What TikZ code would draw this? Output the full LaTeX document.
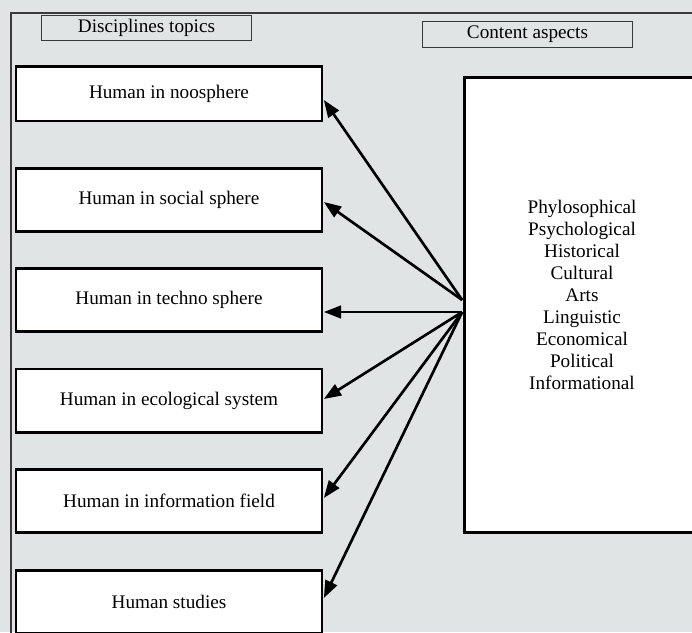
\documentclass[tikz,border=0pt]{standalone}
\usepackage{fontspec}
\setmainfont{Liberation Serif}
\usetikzlibrary{arrows.meta,calc}
\definecolor{bgcol}{HTML}{E1E4E5}
\definecolor{framecol}{HTML}{3A3A3A}
\begin{document}
\begin{tikzpicture}[x=0.75pt,y=-0.75pt,
  txt/.style={font=\fontsize{14.4}{16.5}\selectfont},
  topic/.style={txt,draw=black,line width=2pt,fill=white,minimum width=229.5pt,minimum height=47.5pt,inner sep=0pt},
  head/.style={txt,draw=framecol,line width=0.75pt,minimum width=157.5pt,minimum height=19pt,inner sep=0pt},
  bigbox/.style={draw=black,line width=2pt,fill=white,minimum width=177pt,minimum height=341pt,inner sep=0pt},
  link/.style={line width=2pt,-{Triangle[length=13pt,width=9.5pt]}},
  framel/.style={draw=framecol,line width=0.8pt}]
\useasboundingbox (0,0) rectangle (692,632);
\clip (0,0) rectangle (692,632);
\fill[bgcol] (0,0) rectangle (692,632);
\draw[framel] (11,660) -- (11,13) -- (720,13);

\node[head] (h1) at (146.5,28) {Disciplines topics};
\node[head] (h2) at (527.5,34.5) {Content aspects};

\node[topic,minimum height=41pt] (t1) at (169,93.5) {Human in noosphere};
\node[topic] (t2) at (169,200) {Human in social sphere};
\node[topic] (t3) at (169,300) {Human in techno sphere};
\node[topic] (t4) at (169,400.5) {Human in ecological system};
\node[topic] (t5) at (169,501) {Human in information field};
\node[topic] (t6) at (169,602) {Human studies};

\node[bigbox] (asp) at (582.5,305) {};
\node[txt,align=center] (asptxt) at (582,295) {Phylosophical\\Psychological\\Historical\\Cultural\\Arts\\Linguistic\\Economical\\Political\\Informational};

\coordinate (sa) at ($(asp.west)+(-1,-5)$);
\coordinate (sb) at ($(asp.west)+(-1,7)$);

\draw[link] (sa) -- ($(t1.east)+(0.5,6.5)$);
\draw[link] (sa) -- ($(t2.east)+(0.5,2)$);
\draw[link] (sb) -- ($(t3.east)+(0.5,12)$);
\draw[link] (sb) -- ($(t4.east)+(0.5,-1.5)$);
\draw[link] (sb) -- ($(t5.east)+(0.5,-3)$);
\draw[link] (sb) -- ($(t6.east)+(0.5,-4)$);
\end{tikzpicture}
\end{document}
